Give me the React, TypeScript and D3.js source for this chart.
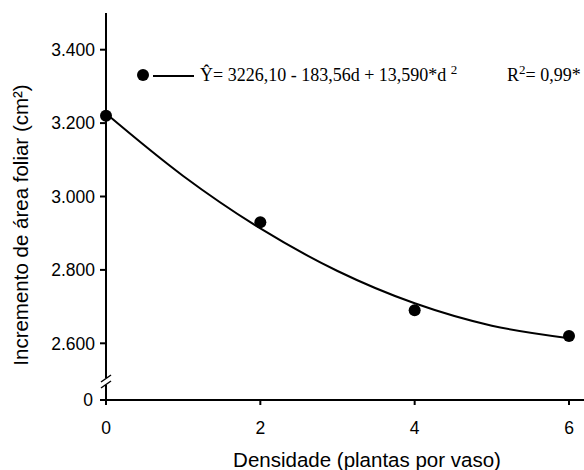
import React from 'react'
import * as d3 from 'd3'

// observed means
const densities = [0, 2, 4, 6]
const leafArea = [3220, 2930, 2690, 2620]

// fitted curve at each integer density
const curveD = [0, 1, 2, 3, 4, 5, 6]
const curveY = [3226, 3056, 2913, 2797, 2709, 2648, 2614]

const yTicks = [2600, 2800, 3000, 3200, 3400]
const xTicks = [0, 2, 4, 6]

const equation = 'Ŷ= 3226,10 - 183,56d + 13,590*d '
const r2Label = '= 0,99*'

const W = 584
const H = 470
const sans = '"Liberation Sans", Arial, sans-serif'
const serif = '"Liberation Serif", "Times New Roman", serif'

const fmt = (v: number) => d3.format(',')(v).replace(',', '.')

const App = () => {
  const x = d3.scaleLinear().domain([0, 6]).range([106, 569])
  // upper segment of the broken axis
  const y = d3.scaleLinear().domain([2500, 3500]).range([380, 13])
  const zeroY = 400

  const line = d3.line<number>()
    .x((d, i) => x(curveD[i]))
    .y(d => y(d))
    .curve(d3.curveCatmullRom)

  const axisX = x(0)

  return (
    <div style={{ position: 'absolute', left: 0, top: 0 }}>
      <svg width={W} height={H} style={{ display: 'block', background: '#fff' }}>
        {/* y axis, broken */}
        <line x1={axisX} x2={axisX} y1={y(3500)} y2={378} stroke="#000" strokeWidth={2} />
        <line x1={axisX} x2={axisX} y1={385} y2={zeroY + 5} stroke="#000" strokeWidth={2} />
        <line x1={101} y1={382} x2={111} y2={375} stroke="#000" strokeWidth={1.5} />
        <line x1={101} y1={388} x2={111} y2={381} stroke="#000" strokeWidth={1.5} />

        {yTicks.map(t => (
          <g key={t}>
            <line x1={axisX - 6} x2={axisX} y1={y(t)} y2={y(t)} stroke="#000" strokeWidth={2} />
            <text x={95} y={y(t)} dy="0.36em" textAnchor="end" fontFamily={sans} fontSize={17.5}>
              {fmt(t)}
            </text>
          </g>
        ))}
        <line x1={axisX - 6} x2={axisX} y1={zeroY} y2={zeroY} stroke="#000" strokeWidth={2} />
        <text x={93} y={zeroY} dy="0.36em" textAnchor="end" fontFamily={sans} fontSize={17.5}>0</text>

        {/* x axis */}
        <line x1={axisX} x2={W} y1={zeroY} y2={zeroY} stroke="#000" strokeWidth={2} />
        {xTicks.map(t => (
          <g key={t}>
            <line x1={x(t)} x2={x(t)} y1={zeroY} y2={zeroY + 5} stroke="#000" strokeWidth={2} />
            <text x={x(t)} y={434} textAnchor="middle" fontFamily={sans} fontSize={17.5}>{t}</text>
          </g>
        ))}

        {/* axis titles */}
        <text x={367} y={467} textAnchor="middle" fontFamily={sans} fontSize={20.5}>
          Densidade (plantas por vaso)
        </text>
        <text
          transform="translate(28,225) rotate(-90)"
          textAnchor="middle"
          fontFamily={sans}
          fontSize={20.5}
        >
          Incremento de área foliar (cm²)
        </text>

        {/* fitted curve and points */}
        <path d={line(curveY) || ''} fill="none" stroke="#000" strokeWidth={2} />
        {densities.map((d, i) => (
          <circle key={d} cx={x(d)} cy={y(leafArea[i])} r={6} fill="#000" />
        ))}

        {/* legend */}
        <circle cx={143} cy={75} r={6} fill="#000" />
        <line x1={153} x2={194} y1={76} y2={76} stroke="#000" strokeWidth={2} />
        <text x={200} y={81} fontFamily={serif} fontSize={18}>
          {equation}
          <tspan fontSize={13} dy={-7}>2</tspan>
        </text>
        <text x={507} y={81} fontFamily={serif} fontSize={18}>
          R<tspan fontSize={13} dy={-7}>2</tspan>
          <tspan dy={7}>{r2Label}</tspan>
        </text>
      </svg>
    </div>
  )
}

export default App
